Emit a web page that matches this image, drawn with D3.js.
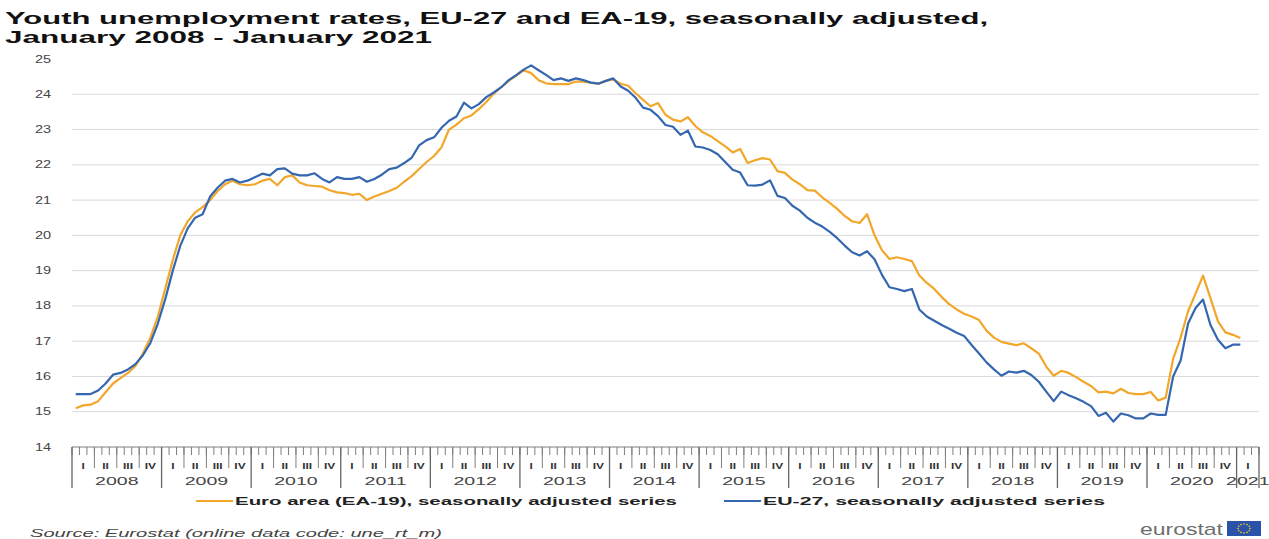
<!DOCTYPE html>
<html>
<head>
<meta charset="utf-8">
<script src="https://cdn.jsdelivr.net/npm/d3@7"></script>
<style>
  body { margin: 0; background: #fff; }
  svg { display: block; font-family: "Liberation Sans", Arial, sans-serif; }
</style>
</head>
<body>
<div id="chart"></div>
<script>
// categories
const years    = [2008, 2009, 2010, 2011, 2012, 2013, 2014, 2015, 2016, 2017, 2018, 2019, 2020, 2021];
const quarters = ['I', 'II', 'III', 'IV'];
const yTicks   = [14, 15, 16, 17, 18, 19, 20, 21, 22, 23, 24, 25];
const seriesNames = ['Euro area (EA-19), seasonally adjusted series', 'EU-27, seasonally adjusted series'];

// monthly values, Jan 2008 .. Jan 2021
const eaValues = [
  15.1, 15.18, 15.2, 15.3, 15.55, 15.8, 15.95, 16.1, 16.3, 16.65, 17.1, 17.7,
  18.5, 19.3, 20.0, 20.4, 20.65, 20.8, 21.0, 21.25, 21.45, 21.55, 21.45, 21.42,
  21.45, 21.55, 21.6, 21.42, 21.65, 21.7, 21.5, 21.42, 21.4, 21.38, 21.28, 21.22,
  21.2, 21.15, 21.18, 21.0, 21.1, 21.18, 21.26, 21.35, 21.52, 21.68, 21.88, 22.08,
  22.25, 22.5, 23.0, 23.14, 23.32, 23.4, 23.58, 23.78, 24.02, 24.2, 24.38, 24.53,
  24.68, 24.6, 24.4, 24.31, 24.29, 24.29, 24.29, 24.36, 24.36, 24.33, 24.3, 24.38,
  24.42, 24.3, 24.24, 24.03, 23.84, 23.66, 23.75, 23.42, 23.28, 23.23, 23.35, 23.1,
  22.92, 22.82, 22.67, 22.52, 22.35, 22.45, 22.05, 22.13, 22.19, 22.15, 21.82, 21.77,
  21.58, 21.45, 21.28, 21.27, 21.08, 20.92, 20.75, 20.55, 20.4, 20.35, 20.6, 20.0,
  19.58, 19.33, 19.38, 19.33, 19.27, 18.86, 18.65, 18.48, 18.25, 18.05, 17.9, 17.78,
  17.7, 17.6, 17.3, 17.1, 16.98, 16.93, 16.89, 16.94, 16.8, 16.65, 16.28, 16.02,
  16.16, 16.1, 15.98, 15.85, 15.73, 15.55, 15.57, 15.52, 15.65, 15.53, 15.5, 15.5,
  15.56, 15.32, 15.4, 16.5, 17.1, 17.85, 18.35, 18.86, 18.22, 17.56, 17.25, 17.18,
  17.09
];
const euValues = [
  15.5, 15.5, 15.5, 15.6, 15.8, 16.05, 16.1, 16.2, 16.35, 16.6, 16.95, 17.5,
  18.2, 19.0, 19.7, 20.2, 20.5, 20.6, 21.1, 21.35, 21.55, 21.6, 21.5, 21.55,
  21.65, 21.75, 21.7, 21.88, 21.9, 21.75, 21.7, 21.7, 21.76, 21.6, 21.5, 21.65,
  21.6, 21.6, 21.65, 21.52, 21.6, 21.72, 21.88, 21.92, 22.05, 22.2, 22.55, 22.7,
  22.78, 23.05, 23.25, 23.37, 23.76, 23.6, 23.72, 23.92, 24.05, 24.2, 24.4, 24.54,
  24.7, 24.82, 24.68, 24.55, 24.4, 24.45, 24.38, 24.45, 24.4, 24.33, 24.3, 24.38,
  24.45, 24.22, 24.1, 23.9, 23.62, 23.56, 23.38, 23.13, 23.08, 22.85, 22.97, 22.52,
  22.49, 22.42, 22.3, 22.08, 21.86, 21.78, 21.42, 21.41, 21.44, 21.56, 21.12, 21.06,
  20.84, 20.7, 20.5, 20.36, 20.25, 20.1, 19.92, 19.71, 19.52, 19.43, 19.55, 19.32,
  18.88, 18.53, 18.48, 18.42, 18.48, 17.9, 17.7, 17.58, 17.46, 17.35, 17.24, 17.15,
  16.89, 16.65, 16.4, 16.2, 16.02, 16.14, 16.11, 16.16, 16.04, 15.85, 15.57, 15.3,
  15.57, 15.47, 15.38, 15.28, 15.16, 14.88, 14.97, 14.72, 14.95, 14.9, 14.81, 14.81,
  14.95, 14.91, 14.91, 16.0, 16.45, 17.5, 17.94, 18.18, 17.46, 17.04, 16.8, 16.9,
  16.9
];

const COLOR_EA = '#F2A72A';
const COLOR_EU = '#3566B0';
const COLOR_GRID = '#d9d9d9';
const COLOR_AXIS = '#7f7f7f';

const width = 1269, height = 539;
const AXIS_END = 159;   // month slots on the category axis (Excel pads a few after Jan 2021)

const svg = d3.select('#chart').append('svg')
    .attr('width', width)
    .attr('height', height);

const x = d3.scaleLinear().domain([0, AXIS_END]).range([72, 1259]);
const y = d3.scaleLinear().domain([14, 25]).range([447, 59]);

// stretched text helper (the source picture is widened horizontally)
function stext(g, px, py, str, sx) {
    return g.append('text')
        .attr('transform', `translate(${px},${py}) scale(${sx},1)`)
        .text(str);
}

// title
const title = svg.append('g').attr('font-weight', 'bold').attr('font-size', 17).attr('fill', '#111');
title.append('text').attr('x', 5).attr('y', 24)
    .attr('textLength', 983).attr('lengthAdjust', 'spacingAndGlyphs')
    .text('Youth unemployment rates, EU-27 and EA-19, seasonally adjusted,');
title.append('text').attr('x', 5).attr('y', 43)
    .attr('textLength', 427).attr('lengthAdjust', 'spacingAndGlyphs')
    .text('January 2008 - January 2021');

// gridlines (none on top and bottom)
svg.append('g')
    .selectAll('line')
    .data(yTicks.filter(v => v > 14 && v < 25))
    .join('line')
    .attr('x1', x(0)).attr('x2', x(AXIS_END))
    .attr('y1', d => y(d)).attr('y2', d => y(d))
    .attr('stroke', COLOR_GRID).attr('stroke-width', 1);

// y labels
const yLab = svg.append('g').attr('font-size', 10).attr('fill', '#444').attr('text-anchor', 'end');
yTicks.forEach(v => stext(yLab, 51, y(v) + 3.5, v, 1.45));

// x axis: baseline, month ticks, quarter and year separators
const xa = svg.append('g').attr('stroke', COLOR_AXIS).attr('fill', 'none');
xa.append('line')
    .attr('x1', x(0)).attr('x2', x(AXIS_END))
    .attr('y1', y(14)).attr('y2', y(14));
xa.selectAll('.mt')
    .data(d3.range(0, AXIS_END + 1))
    .join('line')
    .attr('x1', d => x(d)).attr('x2', d => x(d))
    .attr('y1', y(14)).attr('y2', y(14) + 8);
xa.selectAll('.qt')
    .data(d3.range(0, AXIS_END).filter(d => d % 3 === 0 && d % 12 !== 0))
    .join('line')
    .attr('x1', d => x(d)).attr('x2', d => x(d))
    .attr('y1', y(14)).attr('y2', y(14) + 21);
xa.selectAll('.yt')
    .data(d3.range(0, AXIS_END, 12).concat([AXIS_END]))
    .join('line')
    .attr('x1', d => x(d)).attr('x2', d => x(d))
    .attr('y1', y(14)).attr('y2', y(14) + 41)
    .attr('stroke', '#666').attr('stroke-width', 1.3);

// quarter labels
const qLab = svg.append('g').attr('font-size', 8.5).attr('font-weight', 'bold')
    .attr('fill', '#333').attr('text-anchor', 'middle');
years.forEach((yr, i) => {
    quarters.forEach((q, j) => {
        const start = i * 12 + j * 3;
        if (start >= AXIS_END) return;
        const end = Math.min(start + 3, AXIS_END);
        stext(qLab, x((start + end) / 2), 469, q, 1.4);
    });
});

// year labels
const yrLab = svg.append('g').attr('font-size', 11.5).attr('fill', '#444').attr('text-anchor', 'middle');
years.forEach((yr, i) => {
    const start = i * 12;
    const end = Math.min(start + 12, AXIS_END);
    stext(yrLab, x((start + end) / 2), 485, yr, 1.7);
});

// series lines, point at the middle of each month slot
const line = d3.line()
    .x((d, i) => x(i + 0.5))
    .y(d => y(d));
svg.append('path').datum(eaValues)
    .attr('fill', 'none').attr('stroke', COLOR_EA).attr('stroke-width', 2.2)
    .attr('stroke-linejoin', 'round').attr('d', line);
svg.append('path').datum(euValues)
    .attr('fill', 'none').attr('stroke', COLOR_EU).attr('stroke-width', 2.2)
    .attr('stroke-linejoin', 'round').attr('d', line);

// legend
const leg = svg.append('g').attr('font-size', 11.5).attr('font-weight', 'bold').attr('fill', '#222');
[
    { name: seriesNames[0], color: COLOR_EA, lx: 196, tx: 235, tw: 442 },
    { name: seriesNames[1], color: COLOR_EU, lx: 724, tx: 763, tw: 342 }
].forEach(d => {
    leg.append('line')
        .attr('x1', d.lx).attr('x2', d.tx - 2)
        .attr('y1', 501).attr('y2', 501)
        .attr('stroke', d.color).attr('stroke-width', 2);
    leg.append('text').attr('x', d.tx).attr('y', 505)
        .attr('textLength', d.tw).attr('lengthAdjust', 'spacingAndGlyphs')
        .text(d.name);
});

// source
svg.append('text')
    .attr('x', 30).attr('y', 537)
    .attr('font-size', 11).attr('font-style', 'italic').attr('fill', '#444')
    .attr('textLength', 412).attr('lengthAdjust', 'spacingAndGlyphs')
    .text('Source: Eurostat (online data code: une_rt_m)');

// eurostat logo
svg.append('text')
    .attr('x', 1140).attr('y', 535)
    .attr('font-size', 17).attr('fill', '#6f6f6f')
    .attr('textLength', 83).attr('lengthAdjust', 'spacingAndGlyphs')
    .text('eurostat');
svg.append('rect')
    .attr('x', 1227).attr('y', 521).attr('width', 34).attr('height', 15)
    .attr('fill', '#2a52a8');
svg.append('g').selectAll('circle')
    .data(d3.range(12))
    .join('circle')
    .attr('cx', d => 1244 + 6 * Math.cos(d * Math.PI / 6))
    .attr('cy', d => 528.5 + 4.5 * Math.sin(d * Math.PI / 6))
    .attr('r', 0.8)
    .attr('fill', '#ffd21f');
</script>
</body>
</html>
